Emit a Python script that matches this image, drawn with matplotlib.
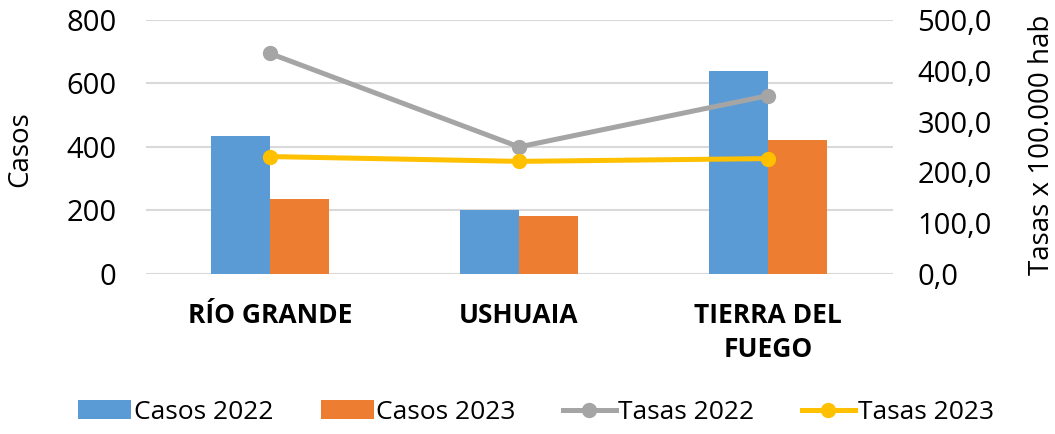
import numpy as np
import matplotlib.pyplot as plt

# data
categories = ["RÍO GRANDE", "USHUAIA", "TIERRA DEL\nFUEGO"]
casos_2022 = [435, 201, 638]
casos_2023 = [237, 183, 421]
tasas_2022 = [434.0, 250.0, 351.0]
tasas_2023 = [231.0, 221.5, 227.0]

left_ticks = [0, 200, 400, 600, 800]
right_ticks = [0, 100, 200, 300, 400, 500]

plt.rcParams['font.family'] = ['Open Sans', 'DejaVu Sans']

fig = plt.figure(figsize=(10.55, 4.34), dpi=100)
ax = fig.add_axes([0.138, 0.369, 0.708, 0.585])
ax2 = ax.twinx()

x = np.arange(len(categories))
w = 0.237
ax.bar(x - w / 2, casos_2022, w, color='#5B9BD5', label='Casos 2022', zorder=2)
ax.bar(x + w / 2, casos_2023, w, color='#ED7D31', label='Casos 2023', zorder=2)

ax2.plot(x, tasas_2022, color='#A5A5A5', lw=3.6, marker='o', ms=10, label='Tasas 2022', zorder=3)
ax2.plot(x, tasas_2023, color='#FFC000', lw=3.6, marker='o', ms=10, label='Tasas 2023', zorder=3)

ax.set_xlim(-0.5, 2.5)
ax.set_ylim(0, 800)
ax2.set_ylim(0, 500)
ax.set_yticks(left_ticks)
ax.set_yticklabels([str(t) for t in left_ticks], fontsize=21)
ax2.set_yticks(right_ticks)
ax2.set_yticklabels([f"{t:.1f}".replace('.', ',') for t in right_ticks], fontsize=21)

ax.set_xticks(x)
ax.set_xticklabels(categories, fontsize=19, fontweight='bold', linespacing=1.35)

ax.grid(axis='y', color='#D9D9D9', lw=1.5, zorder=0)
ax.set_axisbelow(True)
for a in (ax, ax2):
    for s in a.spines.values():
        s.set_visible(False)
    a.tick_params(length=0)
ax.tick_params(axis='y', pad=21)
ax.tick_params(axis='x', pad=20)
ax2.tick_params(axis='y', pad=18)

ax.set_ylabel("Casos", fontsize=20)
ax.yaxis.set_label_coords(-0.149, 0.49)
ax2.set_ylabel("Tasas x 100.000 hab", fontsize=20)
ax2.yaxis.set_label_coords(1.181, 0.51)

h1, l1 = ax.get_legend_handles_labels()
h2, l2 = ax2.get_legend_handles_labels()
fig.legend(h1 + h2, l1 + l2, loc='center', bbox_to_anchor=(0.508, 0.05), ncol=4,
           frameon=False, fontsize=19, handlelength=2.0, handletextpad=0.1,
           columnspacing=1.8)

fig.savefig("out.png", dpi=100)
